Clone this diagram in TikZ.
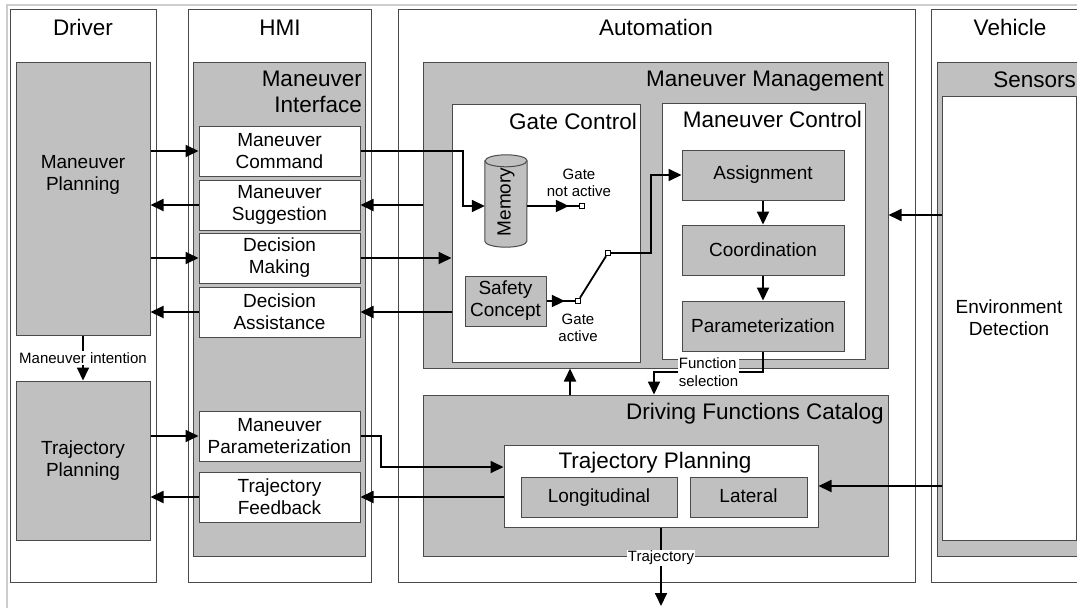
\documentclass[tikz,border=0pt]{standalone}
\usepackage{fontspec}
\setmainfont{Liberation Sans}
\usetikzlibrary{arrows.meta,fit}

\definecolor{boxgray}{HTML}{C0C0C0}
\definecolor{edgegray}{HTML}{4A4A4A}
\definecolor{framegray}{HTML}{CDCDCD}

\newcommand{\hdsize}{\fontsize{22.5}{26}\selectfont}
\newcommand{\bxsize}{\fontsize{19}{22}\selectfont}
\newcommand{\smsize}{\fontsize{15}{17.5}\selectfont}

\tikzset{
  lane/.style={draw=edgegray, line width=1pt, fill=white, inner sep=0pt},
  grp/.style={draw=edgegray, line width=1pt, fill=boxgray, inner sep=0pt},
  sub/.style={draw=edgegray, line width=1pt, fill=white, inner sep=0pt, font=\bxsize, align=center},
  blk/.style={draw=edgegray, line width=1pt, fill=boxgray, inner sep=0pt, font=\bxsize, align=center},
  hd/.style={font=\hdsize, inner sep=0pt, anchor=base},
  ttl/.style={font=\hdsize, inner sep=0pt, anchor=base east, align=right},
  flow/.style={line width=1.8pt, -{Triangle[length=13pt,width=12pt]}},
  wire/.style={line width=1.8pt},
  tag/.style={font=\smsize, fill=white, inner sep=1pt, align=left},
  pin/.style={draw, fill=white, line width=1.3pt, minimum size=5pt, inner sep=0pt},
}

\begin{document}
\begin{tikzpicture}[x=1pt,y=-1pt]
\useasboundingbox (0,0) rectangle (1077,608);
\draw[framegray, line width=2pt] (7,608) -- (7,5) -- (1077,5);

% lanes
\node[lane, fit={(10,9) (156,582)}] (driver) {};
\node[lane, fit={(188,9) (371,582)}] (hmi) {};
\node[lane, fit={(398,9) (915,582)}] (auto) {};
\node[lane, fit={(931,9) (1095,582)}] (vehicle) {};
\node[hd] (driverhd) at (83,35) {Driver};
\node[hd] (hmihd) at (280,35) {HMI};
\node[hd] (autohd) at (656,35) {Automation};
\node[hd] (vehiclehd) at (1010,35) {Vehicle};

% driver
\node[blk, fit={(16,62) (150,335)}] (mplan) {};
\node[font=\bxsize, align=center] (mplantxt) at (83,175) {Maneuver\\Planning};
\node[blk, minimum width=134pt, minimum height=159pt] (tplan) at (83,460.5) {Trajectory\\Planning};

% hmi
\node[grp, fit={(193,62) (365,556)}] (mif) {};
\node[ttl, anchor=east] (mifttl) at (362,92) {Maneuver\\Interface};
\node[sub, minimum width=161pt, minimum height=50pt] (mcmd) at (279.5,151) {Maneuver\\Command};
\node[sub, minimum width=161pt, minimum height=50pt] (msug) at (279.5,205) {Maneuver\\Suggestion};
\node[sub, minimum width=161pt, minimum height=50pt] (dmk) at (279.5,258) {Decision\\Making};
\node[sub, minimum width=161pt, minimum height=50pt] (dass) at (279.5,312) {Decision\\Assistance};
\node[sub, minimum width=161pt, minimum height=50pt] (mpar) at (279.5,436) {Maneuver\\Parameterization};
\node[sub, minimum width=161pt, minimum height=50pt] (tfb) at (279.5,497) {Trajectory\\Feedback};

% automation - maneuver management
\node[grp, fit={(423,62) (888,368)}] (mmg) {};
\node[ttl] (mmgttl) at (884,86) {Maneuver Management};
\node[sub, fit={(452,104) (640,362)}] (gc) {};
\node[ttl] (gcttl) at (637,129) {Gate Control};
\node[sub, fit={(662,103) (865,359)}] (mc) {};
\node[ttl] (mcttl) at (862,127) {Maneuver Control};
\node[blk, minimum width=162pt, minimum height=50pt] (asg) at (763,175) {Assignment};
\node[blk, minimum width=162pt, minimum height=50pt] (crd) at (763,250) {Coordination};
\node[blk, minimum width=162pt, minimum height=50pt] (par) at (763,326) {Parameterization};
\node[minimum width=42pt, minimum height=80pt, inner sep=0pt] (mem) at (506,201) {};
\draw[draw=edgegray, line width=1pt, fill=boxgray] (mem.north west) -- (mem.south west)
  arc[start angle=180, end angle=360, x radius=21pt, y radius=6pt] -- (mem.north east)
  arc[start angle=0, end angle=180, x radius=21pt, y radius=6pt] -- cycle;
\draw[draw=edgegray, line width=1pt] (mem.north west)
  arc[start angle=180, end angle=360, x radius=21pt, y radius=6pt];
\node[rotate=90, font=\bxsize, inner sep=0pt] (memtxt) at (506,202) {Memory};
\node[blk, minimum width=81pt, minimum height=50pt] (safe) at (505.5,301) {Safety\\Concept};
\node[pin] (gna) at (582,206) {};
\node[pin] (ga) at (578,301) {};
\node[pin] (gsw) at (608,253) {};
\node[font=\smsize, align=center, inner sep=0pt] (gnatxt) at (579,183) {Gate\\not active};
\node[font=\smsize, align=center, inner sep=0pt] (gatxt) at (578,328) {Gate\\active};

% automation - driving functions
\node[grp, fit={(423,395) (888,556)}] (dfc) {};
\node[ttl] (dfcttl) at (884,419) {Driving Functions Catalog};
\node[sub, fit={(504,445) (818,527)}] (tp) {};
\node[font=\hdsize, inner sep=0pt] (tpttl) at (655,463) {Trajectory Planning};
\node[blk, minimum width=156pt, minimum height=40pt, text height=14pt, text depth=4pt] (lon) at (599,497) {Longitudinal};
\node[blk, minimum width=117pt, minimum height=40pt, text height=14pt, text depth=4pt] (lat) at (748.5,497) {Lateral};

% vehicle
\node[grp, fit={(937,62) (1095,556)}] (sen) {};
\node[ttl] (senttl) at (1076,87) {Sensors};
\node[sub, minimum width=134pt, minimum height=444pt] (env) at (1009,318) {Environment\\Detection};

% driver <-> hmi
\draw[flow] (mcmd.west -| mplan.east) -- (mcmd.west);
\draw[flow] (msug.west) -- (msug.west -| mplan.east);
\draw[flow] (dmk.west -| mplan.east) -- (dmk.west);
\draw[flow] (dass.west) -- (dass.west -| mplan.east);
\draw[flow] (mpar.west -| tplan.east) -- (mpar.west);
\draw[flow] (tfb.west) -- (tfb.west -| tplan.east);
\draw[flow] (mplan) -- node[tag] (mint) {Maneuver intention} (tplan);

% hmi <-> automation
\coordinate (cmdbend) at (463,206);
\draw[flow] (mcmd.east) -| (cmdbend) -- (cmdbend -| mem.west);
\draw[flow] (msug.east -| mmg.west) -- (msug.east);
\draw[flow] (dmk.east) -- (dmk.east -| gc.west);
\draw[flow] (dass.east -| gc.west) -- (dass.east);
\coordinate (parbend) at (381,467);
\draw[flow] (mpar.east) -| (parbend) -- (parbend -| tp.west);
\draw[flow] (tfb.east -| tp.west) -- (tfb.east);

% gate
\draw[wire] (mem.east |- gna) -- (gna);
\draw[flow, shorten >=10pt] (mem.east |- gna) -- (gna.west);
\draw[wire] (safe.east |- ga) -- (ga);
\draw[flow, shorten >=10pt] (safe.east |- ga) -- (ga.west);
\draw[wire] (ga) -- (gsw);
\coordinate (swbend) at (651,253);
\draw[flow] (gsw) -- (swbend) |- (asg.west);

% maneuver control
\draw[flow] (asg) -- (crd);
\draw[flow] (crd) -- (par);
\coordinate (fselbend) at (654,372);
\draw[flow] (par.south) |- node[tag, pos=0.75] (fsel) {Function\\selection} (fselbend)
  -- (fselbend |- dfc.north);
\coordinate (upx) at (570,0);
\draw[flow] (upx |- dfc.north) -- (upx |- mmg.south);

% vehicle -> automation
\coordinate (envy) at (0,215);
\draw[flow] (envy -| env.west) -- (envy -| mmg.east);
\draw[flow] (tp.east -| env.west) -- (tp.east);

% output
\coordinate (trajout) at (661,606);
\draw[flow] (tp.south) -- node[tag, pos=0.39] (trj) {Trajectory} (trajout);
\end{tikzpicture}
\end{document}
